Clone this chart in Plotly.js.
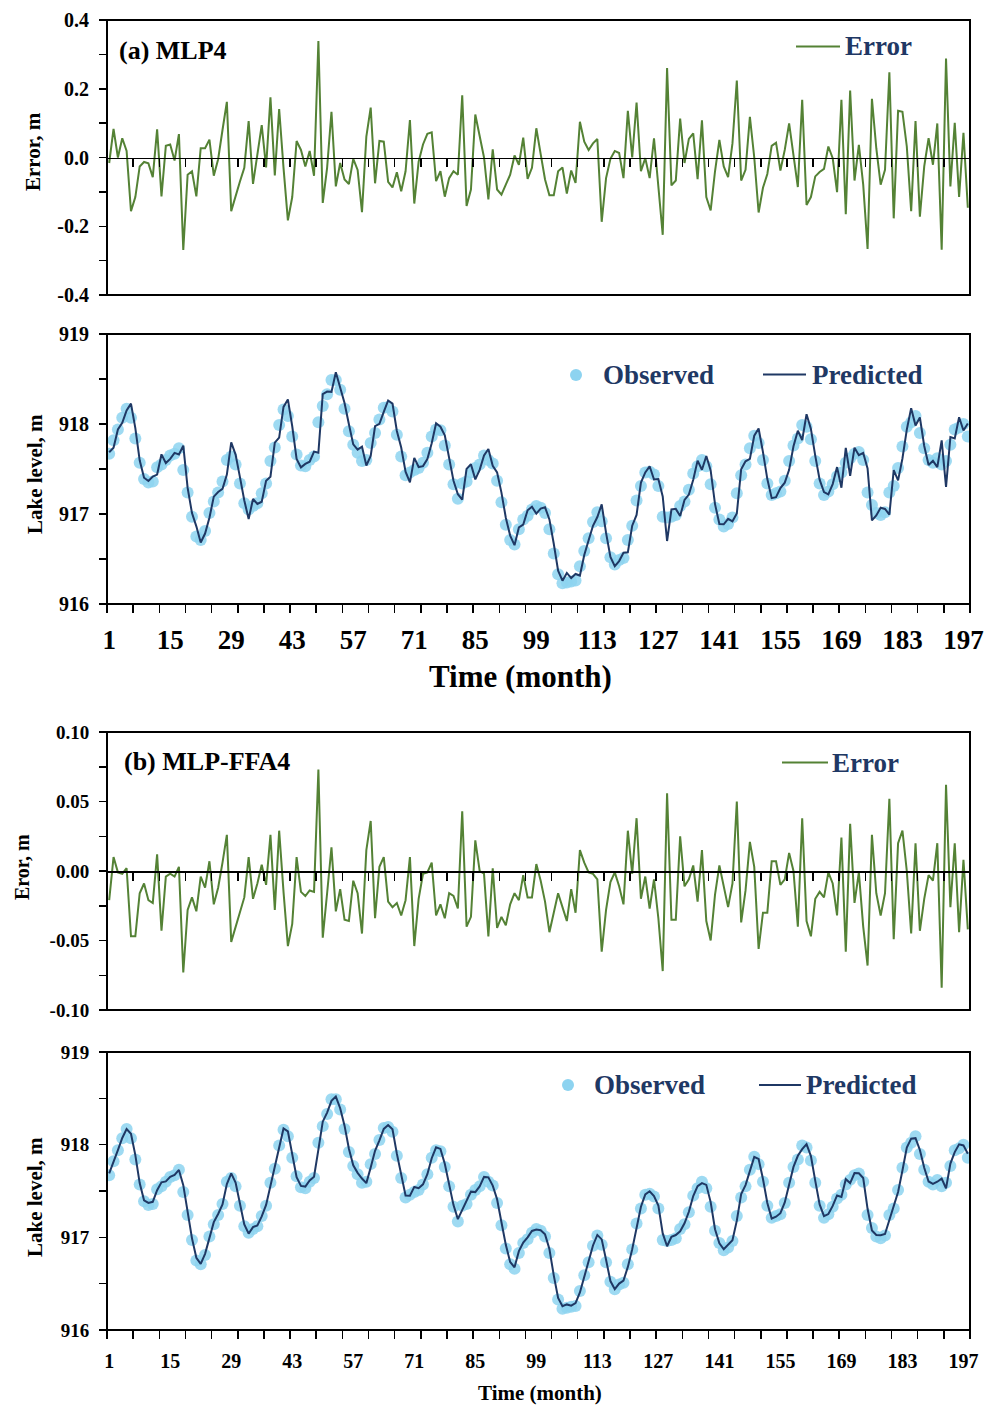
<!DOCTYPE html>
<html><head><meta charset="utf-8">
<script src="https://cdn.plot.ly/plotly-3.0.1.min.js"></script>
<style>html,body{margin:0;padding:0;background:#fff}</style>
</head><body>
<div id="chart" style="width:997px;height:1407px"></div>
<script>
// ---------------- DATA ----------------
const months = [];
for (let m = 1; m <= 198; m++) months.push(m);

const observed = [
917.67,917.82,917.94,918.07,918.17,918.07,917.84,917.57,917.39,917.35,
917.36,917.52,917.55,917.60,917.65,917.67,917.73,917.49,917.24,916.97,
916.75,916.71,916.81,917.01,917.14,917.24,917.36,917.60,917.64,917.55,
917.34,917.12,917.05,917.09,917.12,917.23,917.34,917.59,917.74,917.99,
918.16,918.09,917.86,917.66,917.54,917.53,917.60,917.64,918.02,918.20,
918.33,918.49,918.49,918.38,918.17,917.92,917.77,917.68,917.59,917.60,
917.79,917.90,918.05,918.18,918.19,918.14,917.88,917.64,917.43,917.46,
917.49,917.51,917.57,917.68,917.86,917.94,917.93,917.76,917.55,917.33,
917.17,917.34,917.36,917.46,917.51,917.55,917.65,917.60,917.56,917.37,
917.13,916.88,916.71,916.66,916.83,916.94,916.98,917.05,917.09,917.07,
917.01,916.83,916.56,916.33,916.23,916.24,916.25,916.26,916.42,916.59,
916.73,916.91,917.02,916.92,916.73,916.52,916.44,916.49,916.51,916.71,
916.87,917.15,917.31,917.46,917.47,917.44,917.31,916.97,916.96,916.97,
916.99,917.09,917.14,917.27,917.45,917.53,917.60,917.53,917.33,917.07,
916.94,916.86,916.89,916.96,917.23,917.43,917.55,917.73,917.87,917.79,
917.60,917.34,917.21,917.23,917.25,917.37,917.59,917.76,917.84,917.99,
917.97,917.83,917.59,917.34,917.21,917.25,917.33,917.42,917.46,917.57,
917.62,917.67,917.69,917.60,917.24,917.10,917.01,916.99,917.02,917.24,
917.31,917.51,917.75,917.97,918.02,918.09,917.90,917.73,917.60,917.57,
917.62,917.55,917.59,917.77,917.94,917.96,918.00,917.86
];

// Error (m) of model (a) MLP4
const errorMLP4 = [
-0.016,0.083,0.000,0.056,0.019,-0.156,-0.115,-0.026,-0.013,-0.017,
-0.057,0.082,-0.113,0.034,0.038,-0.009,0.068,-0.269,-0.050,-0.040,
-0.113,0.027,0.027,0.052,-0.053,-0.005,0.080,0.162,-0.156,-0.110,
-0.070,-0.030,0.106,-0.077,0.008,0.094,-0.029,0.175,-0.052,0.141,
-0.030,-0.183,-0.115,0.048,0.022,-0.026,0.019,-0.053,0.339,-0.132,
-0.030,0.133,-0.084,-0.016,-0.064,-0.077,-0.004,-0.036,-0.159,0.061,
0.145,-0.075,0.048,0.046,-0.071,-0.087,-0.043,-0.098,-0.040,0.109,
-0.134,-0.012,0.038,0.069,0.073,-0.069,-0.040,-0.114,-0.060,-0.040,
-0.050,0.181,-0.141,-0.093,0.125,0.060,0.000,-0.122,0.024,-0.093,
-0.108,-0.079,-0.050,0.006,-0.021,0.058,-0.062,-0.030,0.085,0.010,
-0.064,-0.110,-0.110,-0.040,-0.029,-0.105,-0.038,-0.074,0.104,0.046,
0.022,0.041,0.054,-0.187,-0.060,-0.004,0.019,0.013,-0.060,0.136,
0.000,0.160,-0.040,-0.002,-0.060,0.056,-0.079,-0.225,0.260,-0.081,
-0.067,0.113,-0.016,0.054,0.070,-0.063,0.108,-0.115,-0.154,-0.040,
0.051,-0.026,-0.057,0.041,0.224,-0.067,-0.036,0.118,0.000,-0.160,
-0.088,-0.048,0.034,0.043,-0.038,0.022,0.099,0.008,-0.086,0.168,
-0.138,-0.115,-0.055,-0.042,-0.033,0.032,-0.002,-0.101,0.168,-0.165,
0.195,-0.067,0.037,-0.079,-0.266,0.171,0.027,-0.079,-0.036,0.248,
-0.177,0.136,0.133,0.032,-0.156,0.106,-0.172,-0.026,0.056,-0.021,
0.099,-0.268,0.288,-0.084,0.101,-0.115,0.072,-0.146
];

// Error (m) of model (b) MLP-FFA4
const errorMLPFFA4 = [
-0.021,0.010,-0.001,-0.002,0.002,-0.047,-0.047,-0.016,-0.009,-0.021,
-0.023,0.012,-0.043,-0.004,-0.002,-0.004,0.003,-0.073,-0.028,-0.019,
-0.029,-0.004,-0.012,0.007,-0.024,-0.012,0.006,0.026,-0.051,-0.040,
-0.029,-0.019,0.010,-0.020,-0.009,0.0045,-0.010,0.026,-0.028,0.029,
-0.015,-0.054,-0.038,0.010,-0.015,-0.018,-0.014,-0.015,0.073,-0.048,
-0.016,0.017,-0.029,-0.013,-0.035,-0.036,-0.007,-0.016,-0.045,0.015,
0.036,-0.034,0.003,0.010,-0.022,-0.026,-0.023,-0.032,-0.021,0.010,
-0.054,-0.020,-0.002,-0.001,0.006,-0.032,-0.024,-0.034,-0.016,-0.018,
-0.027,0.043,-0.040,-0.033,0.022,0.000,-0.002,-0.047,0.002,-0.041,
-0.033,-0.039,-0.024,-0.016,-0.021,-0.003,-0.019,-0.019,0.005,-0.007,
-0.022,-0.044,-0.030,-0.016,-0.026,-0.036,-0.013,-0.030,0.015,0.006,
-0.001,-0.002,-0.006,-0.058,-0.028,-0.008,-0.001,-0.011,-0.024,0.029,
-0.002,0.038,-0.020,-0.004,-0.027,-0.006,-0.034,-0.072,0.056,-0.035,
-0.035,0.025,-0.011,-0.006,0.004,-0.022,0.015,-0.036,-0.050,-0.017,
0.004,-0.011,-0.026,-0.009,0.050,-0.037,-0.014,0.021,0.003,-0.056,
-0.030,-0.030,0.007,0.007,-0.010,-0.006,0.013,0.000,-0.040,0.038,
-0.036,-0.047,-0.020,-0.015,-0.019,-0.001,-0.009,-0.032,0.024,-0.058,
0.034,-0.023,-0.001,-0.040,-0.068,0.026,-0.016,-0.032,-0.016,0.052,
-0.049,0.020,0.029,0.000,-0.045,0.020,-0.043,-0.020,-0.003,-0.007,
0.020,-0.084,0.062,-0.026,0.020,-0.044,0.008,-0.042
];

// Error = Observed - Predicted  ->  Predicted = Observed - Error
const predictedMLP4 = observed.map((v, i) => v - errorMLP4[i]);
const predictedMLPFFA4 = observed.map((v, i) => v - errorMLPFFA4[i]);

// Tick labels
const monthTickVals = [1,15,29,43,57,71,85,99,113,127,141,155,169,183,197];
const monthTickText = ['1','15','29','43','57','71','85','99','113','127','141','155','169','183','197'];
const errATickVals = [-0.4,-0.3,-0.2,-0.1,0,0.1,0.2,0.3,0.4];
const errATickText = ['-0.4','','-0.2','','0.0','','0.2','','0.4'];
const errBTickVals = [-0.1,-0.075,-0.05,-0.025,0,0.025,0.05,0.075,0.1];
const errBTickText = ['-0.10','','-0.05','','0.00','','0.05','','0.10'];
const lakeTickVals = [916,916.5,917,917.5,918,918.5,919];
const lakeTickText = ['916','','917','','918','','919'];

// ---------------- STYLE / LAYOUT ----------------
const W = 997, H = 1407;
const px = x => x / W;
const py = y => 1 - y / H;
const FONT = 'Liberation Serif, "Times New Roman", serif';
const NAVY = '#1F3864', GREEN = '#548235', SKY = '#8DD3F0';

const xd = [px(107), px(970)];
const dErrA = [py(295), py(20)];
const dLakeA = [py(604), py(334)];
const dErrB = [py(1010), py(732)];
const dLakeB = [py(1330), py(1052)];
const xr = [0.5, 198.5];

function zeroAxis(dom) {
  return {domain: xd, range: xr, anchor: 'free', position: (dom[0] + dom[1]) / 2,
    showline: true, linecolor: '#000', linewidth: 1.6,
    ticks: 'outside', tickmode: 'linear', tick0: 0.5, dtick: 6, ticklen: 8, tickwidth: 1.5, tickcolor: '#000',
    showticklabels: false, showgrid: false, zeroline: false};
}
function tickAxis(yname) {
  return {domain: xd, range: xr, anchor: yname, showline: false,
    ticks: 'outside', tickmode: 'linear', tick0: 0.5, dtick: 6, ticklen: 8, tickwidth: 1.5, tickcolor: '#000',
    showticklabels: false, showgrid: false, zeroline: false};
}
function labelAxis(over, yname, size, standoff) {
  return {domain: xd, range: xr, overlaying: over, anchor: yname, side: 'bottom', showline: false,
    ticks: '', tickmode: 'array', tickvals: monthTickVals, ticktext: monthTickText,
    tickfont: {family: FONT, size: size, color: '#000', weight: 'bold'}, ticklabelstandoff: standoff,
    showgrid: false, zeroline: false};
}
function yAx(dom, range, xname, vals, text, size) {
  return {domain: dom, range: range, anchor: xname, showline: false, showgrid: false, zeroline: false,
    ticks: 'outside', ticklen: 7, tickwidth: 1.5, tickcolor: '#000',
    tickmode: 'array', tickvals: vals, ticktext: text, ticklabelstandoff: 6,
    tickfont: {family: FONT, size: size, color: '#000', weight: 'bold'}};
}

const traces = [
  {x: months, y: errorMLP4, xaxis: 'x', yaxis: 'y', type: 'scatter', mode: 'lines', name: 'Error',
   line: {color: GREEN, width: 2}},
  {x: months, y: observed, xaxis: 'x2', yaxis: 'y2', type: 'scatter', mode: 'markers', name: 'Observed',
   marker: {size: 12, color: SKY, opacity: 0.85}},
  {x: months, y: predictedMLP4, xaxis: 'x5', yaxis: 'y2', type: 'scatter', mode: 'lines', name: 'Predicted',
   line: {color: NAVY, width: 2}},
  {x: months, y: errorMLPFFA4, xaxis: 'x3', yaxis: 'y3', type: 'scatter', mode: 'lines', name: 'Error',
   line: {color: GREEN, width: 2}},
  {x: months, y: observed, xaxis: 'x4', yaxis: 'y4', type: 'scatter', mode: 'markers', name: 'Observed',
   marker: {size: 12, color: SKY, opacity: 0.85}},
  {x: months, y: predictedMLPFFA4, xaxis: 'x6', yaxis: 'y4', type: 'scatter', mode: 'lines', name: 'Predicted',
   line: {color: NAVY, width: 2}}
];

function frame(xn, yn) {
  return {type: 'rect', xref: xn + ' domain', yref: yn + ' domain', x0: 0, x1: 1, y0: 0, y1: 1,
    line: {color: '#000', width: 2}, fillcolor: 'rgba(0,0,0,0)', layer: 'above'};
}
function legLine(x0, x1, y, color) {
  return {type: 'line', xref: 'paper', yref: 'paper', x0: px(x0), x1: px(x1), y0: py(y), y1: py(y),
    line: {color: color, width: 2}};
}
function legDot(cx, cy, r) {
  return {type: 'circle', xref: 'paper', yref: 'paper', x0: px(cx - r), x1: px(cx + r), y0: py(cy + r), y1: py(cy - r),
    line: {width: 0}, fillcolor: SKY};
}
const shapes = [
  frame('x', 'y'), frame('x2', 'y2'), frame('x3', 'y3'), frame('x4', 'y4'),
  legLine(796, 840, 46.5, GREEN), legLine(782, 828, 762.5, GREEN),
  legDot(576, 375, 6), legLine(763, 806, 374.5, NAVY),
  legDot(568, 1085, 6), legLine(759, 801, 1085, NAVY)
];

function txt(t, x, y, size, color, opts) {
  return Object.assign({text: t, x: px(x), y: py(y), xref: 'paper', yref: 'paper', showarrow: false,
    xanchor: 'left', yanchor: 'middle', font: {family: FONT, size: size, color: color, weight: 'bold'}}, opts || {});
}
const annotations = [
  txt('(a) MLP4', 117, 50, 26, '#000'),
  txt('(b) MLP-FFA4', 122, 761, 26, '#000'),
  txt('Error', 843, 46, 27, NAVY),
  txt('Error', 830, 763, 27, NAVY),
  txt('Observed', 601, 375, 27, NAVY),
  txt('Predicted', 810, 375, 27, NAVY),
  txt('Observed', 592, 1085, 27, NAVY),
  txt('Predicted', 804, 1085, 27, NAVY),
  txt('Error, m', 33, 152, 21, '#000', {xanchor: 'center', textangle: -90}),
  txt('Lake level, m', 35, 474, 21, '#000', {xanchor: 'center', textangle: -90}),
  txt('Eror, m', 22, 867, 20, '#000', {xanchor: 'center', textangle: -90}),
  txt('Lake level, m', 35, 1197, 21, '#000', {xanchor: 'center', textangle: -90}),
  txt('Time (month)', 520, 676, 31, '#000', {xanchor: 'center'}),
  txt('Time (month)', 540, 1393, 21, '#000', {xanchor: 'center', borderpad: 0})
];

const layout = {
  width: W, height: H, margin: {l: 0, r: 0, t: 0, b: 0},
  paper_bgcolor: '#fff', plot_bgcolor: '#fff', showlegend: false,
  xaxis: zeroAxis(dErrA),
  yaxis: yAx(dErrA, [-0.4, 0.4], 'x', errATickVals, errATickText, 20),
  xaxis2: tickAxis('y2'),
  yaxis2: yAx(dLakeA, [916, 919], 'x2', lakeTickVals, lakeTickText, 20),
  xaxis5: labelAxis('x2', 'y2', 27, 17),
  xaxis3: zeroAxis(dErrB),
  yaxis3: yAx(dErrB, [-0.1, 0.1], 'x3', errBTickVals, errBTickText, 19),
  xaxis4: tickAxis('y4'),
  yaxis4: yAx(dLakeB, [916, 919], 'x4', lakeTickVals, lakeTickText, 19),
  xaxis6: labelAxis('x4', 'y4', 20, 17),
  shapes: shapes,
  annotations: annotations
};

Plotly.newPlot('chart', traces, layout, {displayModeBar: false, staticPlot: true});
</script>
</body></html>
